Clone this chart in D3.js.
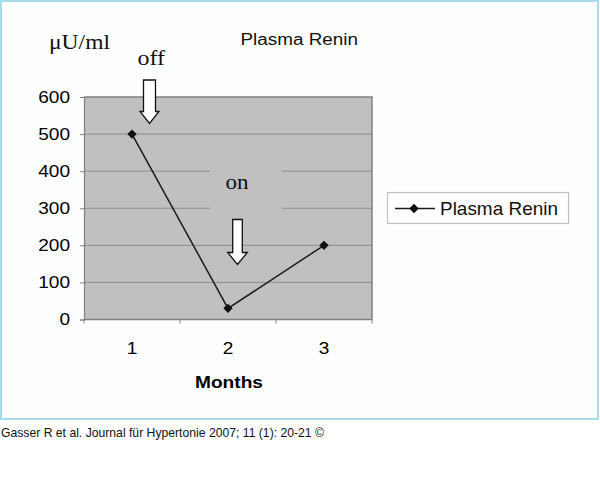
<!DOCTYPE html>
<html>
<head>
<meta charset="utf-8">
<script src="https://cdn.jsdelivr.net/npm/d3@7"></script>
<style>
  html, body { margin: 0; padding: 0; background: #ffffff; }
  svg { display: block; }
</style>
</head>
<body>
<svg id="chart" width="600" height="481"></svg>
<script>
// ---- data ----
const months = ["1", "2", "3"];
const renin = [500, 30, 200];
const yTicks = [0, 100, 200, 300, 400, 500, 600];
const seriesName = "Plasma Renin";
const chartTitle = "Plasma Renin";
const yUnit = "\u03bcU/ml";
const xTitle = "Months";
const annotations = [
  { label: "off", month: "1" },
  { label: "on", month: "2" }
];
const footer = "Gasser R et al. Journal f\u00fcr Hypertonie 2007; 11 (1): 20-21 \u00a9";

// ---- layout ----
const svg = d3.select("#chart");
const plot = { left: 84, right: 372, top: 97, bottom: 319.5 };
const sans = "Arial, 'Liberation Sans', Helvetica, sans-serif";
const serif = "'Times New Roman', 'Liberation Serif', serif";

// outer frame
svg.append("rect").attr("x", 1).attr("y", 1).attr("width", 597).attr("height", 418)
  .attr("fill", "#fdfefe").attr("stroke", "#a9dcea").attr("stroke-width", 2);

const x = d3.scaleBand().domain(months).range([plot.left, plot.right]);
const y = d3.scaleLinear().domain([0, 600]).range([plot.bottom, plot.top]);

function txt(str, xPos, yPos, size, len, opts = {}) {
  const t = svg.append("text").attr("x", xPos).attr("y", yPos)
    .attr("font-family", opts.family || sans).attr("font-size", size)
    .attr("fill", opts.fill || "#111").text(str);
  if (opts.weight) t.attr("font-weight", opts.weight);
  if (len) t.attr("textLength", len).attr("lengthAdjust", "spacingAndGlyphs");
  return t;
}

// plot background
svg.append("rect").attr("x", plot.left).attr("y", plot.top)
  .attr("width", plot.right - plot.left).attr("height", plot.bottom - plot.top)
  .attr("fill", "#c0c0c0");

// gridlines
svg.append("g").selectAll("line").data(yTicks.filter(d => d > 0 && d < 600)).join("line")
  .attr("x1", plot.left).attr("x2", plot.right)
  .attr("y1", d => y(d)).attr("y2", d => y(d))
  .attr("stroke", "#8c8c8c").attr("stroke-width", 1);

// plot border (top/right)
svg.append("path")
  .attr("d", `M${plot.left},${plot.top}H${plot.right}V${plot.bottom}`)
  .attr("fill", "none").attr("stroke", "#808080").attr("stroke-width", 1.5);

// y axis
const yAxis = d3.axisLeft(y).tickValues(yTicks).tickSize(4).tickFormat("");
const gy = svg.append("g").attr("transform", `translate(${plot.left},0)`).call(yAxis);
gy.select(".domain").attr("stroke", "#808080").attr("stroke-width", 1.2);
gy.selectAll(".tick line").attr("stroke", "#808080");
yTicks.forEach(v => {
  const s = String(v);
  const w = 10.6 * s.length;
  txt(s, 70 - w, y(v) + 5.8, 16.2, w, { fill: "#000" });
});

// x axis
const bounds = months.map(m => x(m)).concat([plot.right]);
const gx = svg.append("g");
gx.append("line").attr("x1", plot.left).attr("x2", plot.right)
  .attr("y1", plot.bottom).attr("y2", plot.bottom)
  .attr("stroke", "#808080").attr("stroke-width", 1.5);
gx.selectAll("line.tk").data(bounds).join("line").attr("class", "tk")
  .attr("x1", d => d).attr("x2", d => d)
  .attr("y1", plot.bottom).attr("y2", plot.bottom + 4)
  .attr("stroke", "#808080").attr("stroke-width", 1);
months.forEach(m => {
  txt(m, x(m) + x.bandwidth() / 2 - 5.3, 354, 16.2, 10.6, { fill: "#000" });
});

// "on" label box (covers gridlines)
const onAnn = annotations[1];
const onX = x(onAnn.month) + x.bandwidth() / 2;
svg.append("rect").attr("x", onX - 18).attr("y", 167).attr("width", 72).attr("height", 46)
  .attr("fill", "#c0c0c0");

// line + markers
const cx = d => x(d) + x.bandwidth() / 2;
const line = d3.line().x((d, i) => cx(months[i])).y(d => y(d));
svg.append("path").datum(renin).attr("d", line)
  .attr("fill", "none").attr("stroke", "#1a1a1a").attr("stroke-width", 1.5);
svg.append("g").selectAll("path").data(renin).join("path")
  .attr("d", d3.symbol().type(d3.symbolSquare).size(44))
  .attr("transform", (d, i) => `translate(${cx(months[i])},${y(d)}) rotate(45)`)
  .attr("fill", "#111");

// arrows
function arrow(cxp, top, headBase, tip, shaftHalf, headHalf) {
  const p = d3.path();
  p.moveTo(cxp - shaftHalf, top);
  p.lineTo(cxp + shaftHalf, top);
  p.lineTo(cxp + shaftHalf, headBase);
  p.lineTo(cxp + headHalf, headBase);
  p.lineTo(cxp, tip);
  p.lineTo(cxp - headHalf, headBase);
  p.lineTo(cxp - shaftHalf, headBase);
  p.closePath();
  svg.append("path").attr("d", p.toString())
    .attr("fill", "#ffffff").attr("stroke", "#111").attr("stroke-width", 1.3);
}
arrow(149.5, 80, 111.5, 123.5, 6, 9.5);
arrow(237.5, 219.5, 252.5, 264.5, 4.8, 9.8);

// texts
txt(chartTitle, 240.5, 44.5, 16, 117.5);
txt(yUnit, 49, 48.5, 20, 61, { family: serif });
txt(annotations[0].label, 137.5, 65, 22, 27.5, { family: serif });
txt(onAnn.label, 225.5, 188.5, 22, 23, { family: serif });
txt(xTitle, 195, 387.5, 16.5, 68, { weight: "bold", fill: "#000" });

// legend
svg.append("rect").attr("x", 387.5).attr("y", 192.5).attr("width", 181).attr("height", 31)
  .attr("fill", "#ffffff").attr("stroke", "#c0c0c0").attr("stroke-width", 1.2);
svg.append("line").attr("x1", 395).attr("x2", 435).attr("y1", 208.5).attr("y2", 208.5)
  .attr("stroke", "#1a1a1a").attr("stroke-width", 1.5);
svg.append("path").attr("d", d3.symbol().type(d3.symbolSquare).size(44))
  .attr("transform", "translate(414,208.5) rotate(45)").attr("fill", "#111");
txt(seriesName, 440, 214.5, 18.5, 118);

// footer
txt(footer, 1, 436.5, 13, 323);
</script>
</body>
</html>
